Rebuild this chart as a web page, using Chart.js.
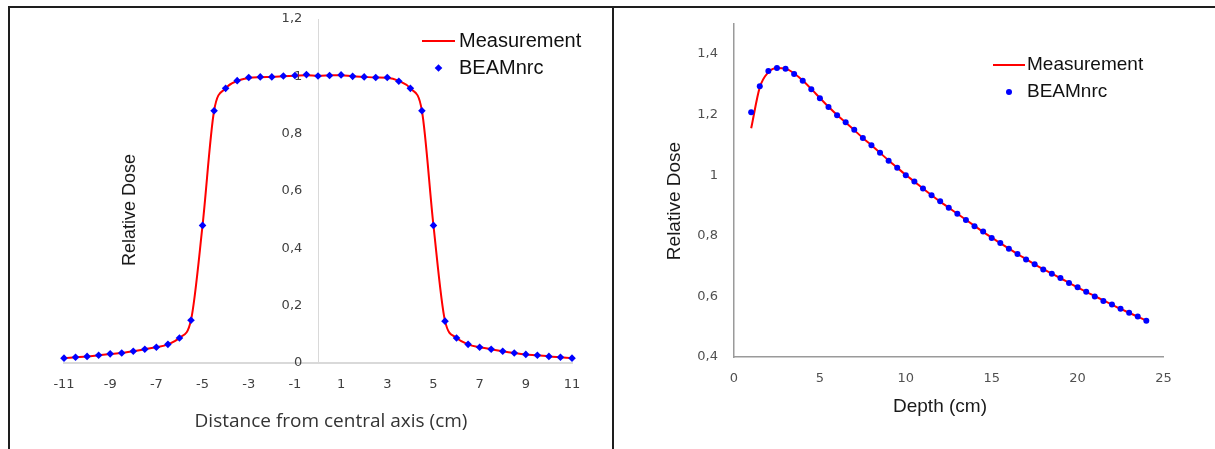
<!DOCTYPE html>
<html>
<head>
<meta charset="utf-8">
<script src="https://cdn.jsdelivr.net/npm/chart.js@4.4.1/dist/chart.umd.min.js"></script>
<style>
  html, body { margin: 0; padding: 0; background: #fff; }
  body { width: 1215px; height: 449px; position: relative; overflow: hidden; }
  canvas { position: absolute; top: 0; }
  #profileChart { left: 0; }
  #depthChart { left: 614px; }
  .rule { position: absolute; background: #1e1e1e; }
</style>
</head>
<body>
<canvas id="profileChart" width="612" height="449"></canvas>
<canvas id="depthChart" width="601" height="449"></canvas>
<div class="rule" style="left:8px; top:6px; width:1207px; height:2px"></div>
<div class="rule" style="left:8px; top:6px; width:2px; height:443px"></div>
<div class="rule" style="left:612px; top:6px; width:2px; height:443px"></div>
<script>
// Beam profile (left) and depth dose curve (right): measurement vs BEAMnrc simulation

// --- profile: distance from central axis (cm)
const profileX = [
    -11, -10.5, -10, -9.5, -9, -8.5, -8, -7.5, -7, -6.5, -6, -5.5, -5, -4.5, -4, -3.5, -3, -2.5, -2, -1.5, -1, -0.5,
    0, 0.5, 1, 1.5, 2, 2.5, 3, 3.5, 4, 4.5, 5, 5.5, 6, 6.5, 7, 7.5, 8, 8.5, 9, 9.5, 10, 10.5, 11
];
const profileMeasured = [
    0.017, 0.020, 0.023, 0.027, 0.031, 0.035, 0.041, 0.048, 0.055, 0.065, 0.088, 0.150, 0.480, 0.880, 0.958, 0.984, 0.994, 0.997, 0.998, 1.000, 1.002, 1.004,
    1.002, 1.003, 1.004, 1.000, 0.998, 0.996, 0.995, 0.984, 0.958, 0.880, 0.480, 0.147, 0.088, 0.065, 0.055, 0.048, 0.041, 0.035, 0.030, 0.027, 0.023, 0.020, 0.017
];
const profileBeam = [
    0.017, 0.020, 0.023, 0.027, 0.032, 0.035, 0.041, 0.048, 0.055, 0.065, 0.087, 0.149, 0.480, 0.880, 0.958, 0.985, 0.996, 0.998, 0.998, 1.001, 1.003, 1.006,
    1.001, 1.003, 1.005, 1.000, 0.998, 0.996, 0.996, 0.983, 0.958, 0.880, 0.480, 0.146, 0.087, 0.065, 0.055, 0.048, 0.041, 0.035, 0.030, 0.027, 0.023, 0.020, 0.017
];
const profileXTicks = [-11, -9, -7, -5, -3, -1, 1, 3, 5, 7, 9, 11];
const profileYTicks = [0, 0.2, 0.4, 0.6, 0.8, 1, 1.2];

// --- depth dose: depth (cm)
const depthX = [
    1, 1.5, 2, 2.5, 3, 3.5, 4, 4.5, 5, 5.5, 6, 6.5, 7, 7.5, 8, 8.5, 9, 9.5, 10, 10.5, 11, 11.5, 12, 12.5,
    13, 13.5, 14, 14.5, 15, 15.5, 16, 16.5, 17, 17.5, 18, 18.5, 19, 19.5, 20, 20.5, 21, 21.5, 22, 22.5, 23, 23.5, 24
];
const depthMeasured = [
    1.155, 1.290, 1.340, 1.354, 1.352, 1.336, 1.313, 1.285, 1.255, 1.226, 1.199, 1.174, 1.149, 1.123, 1.099, 1.074, 1.049, 1.025, 1.001, 0.979, 0.956, 0.934, 0.913, 0.893,
    0.873, 0.853, 0.833, 0.813, 0.794, 0.776, 0.758, 0.740, 0.723, 0.706, 0.690, 0.675, 0.660, 0.645, 0.630, 0.615, 0.601, 0.587, 0.573, 0.559, 0.546, 0.533, 0.520
];
const depthBeam = [
    1.208, 1.294, 1.344, 1.354, 1.352, 1.334, 1.312, 1.284, 1.254, 1.225, 1.198, 1.175, 1.150, 1.123, 1.099, 1.074, 1.048, 1.025, 1.000, 0.979, 0.956, 0.934, 0.914, 0.893,
    0.873, 0.852, 0.832, 0.814, 0.793, 0.776, 0.757, 0.740, 0.722, 0.706, 0.689, 0.675, 0.661, 0.644, 0.630, 0.615, 0.600, 0.585, 0.573, 0.559, 0.546, 0.534, 0.520
];
const depthXTicks = [0, 5, 10, 15, 20, 25];
const depthYTicks = [0.4, 0.6, 0.8, 1, 1.2, 1.4];

const RED = '#ff0000';
const BLUE = '#0000ff';

function toPoints(xs, ys) {
    return xs.map((x, i) => ({ x: x, y: ys[i] }));
}

// decimal comma, as in the spreadsheet export
function commaLabel(v) {
    return String(Math.round(v * 10) / 10).replace('.', ',');
}

// use the listed tick values instead of the auto-generated ones
function fixedTicks(values) {
    return function(scale) {
        scale.ticks = values.map(v => ({ value: v }));
    };
}

function buildDatasets(measured, beam, marker) {
    return [
        {
            label: 'Measurement',
            data: measured,
            showLine: true,
            borderColor: RED,
            borderWidth: 2,
            pointRadius: 0,
            cubicInterpolationMode: 'monotone',
            clip: false,
            order: 2
        },
        {
            label: 'BEAMnrc',
            data: beam,
            showLine: false,
            pointStyle: marker.style,
            pointRadius: marker.radius,
            pointBackgroundColor: BLUE,
            pointBorderWidth: 0,
            clip: false,
            order: 1
        }
    ];
}

// axis titles + legend drawn at fixed spots inside each panel
const panelText = {
    id: 'panelText',
    afterDraw(chart, args, opts) {
        const ctx = chart.ctx;
        ctx.save();
        (opts.titles || []).forEach(t => {
            ctx.save();
            ctx.translate(t.x, t.y);
            if (t.rotate) ctx.rotate(-Math.PI / 2);
            ctx.font = t.font;
            ctx.fillStyle = t.color;
            ctx.textAlign = 'center';
            ctx.textBaseline = 'middle';
            ctx.fillText(t.text, 0, 0);
            ctx.restore();
        });

        const lg = opts.legend;
        if (lg) {
            chart.data.datasets.forEach((ds, i) => {
                const y = lg.y + i * lg.rowGap;
                if (ds.showLine === false) {
                    ctx.fillStyle = ds.pointBackgroundColor;
                    Chart.helpers.drawPoint(ctx, {
                        pointStyle: ds.pointStyle,
                        radius: ds.pointRadius,
                        rotation: 0,
                        borderWidth: 0
                    }, lg.x + lg.sample / 2, y);
                } else {
                    ctx.strokeStyle = ds.borderColor;
                    ctx.lineWidth = ds.borderWidth;
                    ctx.beginPath();
                    ctx.moveTo(lg.x, y);
                    ctx.lineTo(lg.x + lg.sample, y);
                    ctx.stroke();
                }
                ctx.font = lg.font;
                ctx.fillStyle = lg.color;
                ctx.textAlign = 'left';
                ctx.textBaseline = 'middle';
                ctx.fillText(ds.label, lg.x + lg.sample + lg.gap, y);
            });
        }
        ctx.restore();
    }
};

const commonOptions = {
    responsive: false,
    animation: false,
    devicePixelRatio: 1,
    events: []
};

const tickFont = { family: 'DejaVu Sans', size: 13 };

// left: dose profile, y axis crossing at x = 0
new Chart(document.getElementById('profileChart'), {
    type: 'scatter',
    data: { datasets: buildDatasets(toPoints(profileX, profileMeasured), toPoints(profileX, profileBeam), { style: 'rectRot', radius: 3.8 }) },
    options: {
        ...commonOptions,
        layout: { padding: { left: 64, right: 40, top: 19, bottom: 46 } },
        plugins: {
            legend: { display: false },
            tooltip: { enabled: false },
            panelText: {
                titles: [
                    { text: 'Relative Dose', x: 130, y: 210, rotate: true, font: '18px "Liberation Sans"', color: '#1a1a1a' },
                    { text: 'Distance from central axis (cm)', x: 331, y: 422, font: '19px "Open Sans"', color: '#333333' }
                ],
                legend: { x: 422, y: 41, rowGap: 27, sample: 33, gap: 4, font: '20px "Liberation Sans"', color: '#111111' }
            }
        },
        scales: {
            x: {
                type: 'linear',
                position: 'bottom',
                min: -11,
                max: 11,
                afterBuildTicks: fixedTicks(profileXTicks),
                afterFit: s => { s.height = 40; },
                grid: { display: false, drawTicks: false },
                border: { color: '#d9d9d9', width: 2 },
                ticks: {
                    padding: 14,
                    color: '#404040',
                    font: tickFont,
                    callback: v => String(v)
                }
            },
            // axis line through x = 0
            y: {
                type: 'linear',
                position: { x: 0 },
                min: 0,
                max: 1.2,
                afterBuildTicks: fixedTicks(profileYTicks),
                grid: { display: false, drawTicks: false },
                border: { color: '#d9d9d9', width: 1 },
                ticks: { display: false }
            },
            // its labels, set a little to the left of the line
            yLabels: {
                type: 'linear',
                axis: 'y',
                position: { x: -0.68 },
                min: 0,
                max: 1.2,
                afterBuildTicks: fixedTicks(profileYTicks),
                grid: { display: false, drawTicks: false },
                border: { display: false },
                ticks: {
                    color: '#404040',
                    font: tickFont,
                    callback: commaLabel
                }
            }
        }
    },
    plugins: [panelText]
});

// right: depth dose
new Chart(document.getElementById('depthChart'), {
    type: 'scatter',
    data: { datasets: buildDatasets(toPoints(depthX, depthMeasured), toPoints(depthX, depthBeam), { style: 'circle', radius: 3 }) },
    options: {
        ...commonOptions,
        layout: { padding: { left: 80, right: 51.5, top: 22, bottom: 52 } },
        plugins: {
            legend: { display: false },
            tooltip: { enabled: false },
            panelText: {
                titles: [
                    { text: 'Relative Dose', x: 60.5, y: 201, rotate: true, font: '19px "Liberation Sans"', color: '#1a1a1a' },
                    { text: 'Depth (cm)', x: 326, y: 407, font: '19px "Liberation Sans"', color: '#1a1a1a' }
                ],
                legend: { x: 379, y: 65, rowGap: 27, sample: 32, gap: 2, font: '19px "Liberation Sans"', color: '#111111' }
            }
        },
        scales: {
            x: {
                type: 'linear',
                position: 'bottom',
                min: 0,
                max: 25,
                afterBuildTicks: fixedTicks(depthXTicks),
                afterFit: s => { s.height = 40; },
                grid: { display: false, drawTicks: false },
                border: { color: '#9a9a9a', width: 1.5 },
                ticks: {
                    padding: 14,
                    color: '#505050',
                    font: tickFont,
                    callback: v => String(v)
                }
            },
            y: {
                type: 'linear',
                position: 'left',
                min: 0.4,
                max: 1.5,
                afterBuildTicks: fixedTicks(depthYTicks),
                afterFit: s => { s.width = 40; },
                grid: { display: false, drawTicks: false },
                border: { color: '#9a9a9a', width: 1.5 },
                ticks: {
                    padding: 16,
                    color: '#505050',
                    font: tickFont,
                    callback: commaLabel
                }
            }
        }
    },
    plugins: [panelText]
});
</script>
</body>
</html>
